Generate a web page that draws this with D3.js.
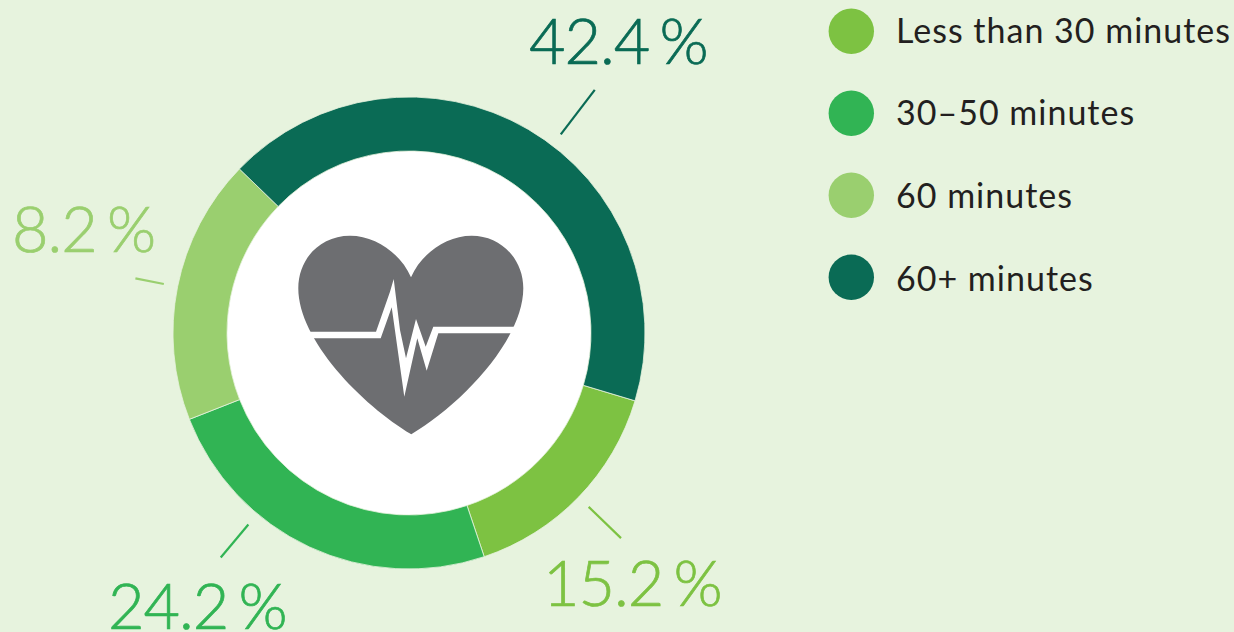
<!DOCTYPE html>
<html lang="en">
<head>
    <meta charset="UTF-8">
    <title>Minutes of activity</title>
    <script src="https://d3js.org/d3.v7.min.js"></script>
    <style>
        html, body { margin: 0; padding: 0; background: #e7f3de; overflow: hidden; }
        svg { display: block; }
        text { font-family: Lato, sans-serif; }
        .legend-label { font-size: 34px; letter-spacing: 1px; fill: #231f20; }
        .value-label { font-size: 63px; font-weight: 300; letter-spacing: -1px; word-spacing: -6px; stroke-width: 0.7px; }
    </style>
</head>
<body>
<script>
    const width  = 1234;
    const height = 632;

    // slices clockwise from the 15.2 % one, which starts lower right
    const categories = ["Less than 30 minutes", "30–50 minutes", "60 minutes", "60+ minutes"];
    const shares     = [15.2, 24.2, 18.2, 42.4];
    // printed labels, kept apart from shares: the reference prints 8.2 on the 18.2 slice
    const valueLabels = ["15.2 %", "24.2 %", "8.2 %", "42.4 %"];
    const colors     = ["#7dc242", "#31b454", "#9acf6f", "#0a6b55"];

    const center = [409, 333];
    const outerR = 236;
    const innerR = 182;
    const startDeg = 106.7;

    // leader lines are radial, nudged off the slice middle where the artwork does that
    const leaderShift = [0, 15, 0, 7];
    const leaderEnd   = [295, 293, 279, 306];
    const labelPos    = [[543, 606], [108, 629], [12, 252], [529, 64]];

    const rad = d => d * Math.PI / 180;

    const svg = d3.select("body").append("svg").attr("width", width).attr("height", height);

    const pie = d3.pie().sort(null)
        .startAngle(rad(startDeg))
        .endAngle(rad(startDeg + 360));
    const arc = d3.arc().innerRadius(innerR).outerRadius(outerR);
    const slices = pie(shares);

    const g = svg.append("g").attr("transform", `translate(${center})`);

    g.append("circle").attr("r", innerR).attr("fill", "#fff");

    g.selectAll("path.slice").data(slices).join("path")
        .attr("class", "slice")
        .attr("d", arc)
        .attr("fill", (d, i) => colors[i])
        .attr("stroke", "#e7f3de")
        .attr("stroke-width", 0.8);

    g.selectAll("line.leader").data(slices).join("line")
        .attr("class", "leader")
        .each(function (d, i) {
            const a = (d.startAngle + d.endAngle) / 2 + rad(leaderShift[i]);
            const p0 = d3.pointRadial(a, 250);
            const p1 = d3.pointRadial(a, leaderEnd[i]);
            d3.select(this).attr("x1", p0[0]).attr("y1", p0[1]).attr("x2", p1[0]).attr("y2", p1[1]);
        })
        .attr("stroke", (d, i) => colors[i])
        .attr("stroke-width", 2.2);

    svg.selectAll("text.value-label").data(valueLabels).join("text")
        .attr("class", "value-label")
        .attr("x", (d, i) => labelPos[i][0])
        .attr("y", (d, i) => labelPos[i][1])
        .attr("fill", (d, i) => colors[i])
        .attr("stroke", (d, i) => colors[i])
        .text(d => d);

    // heart icon, then the pulse cut out of it in white
    const heart = "M411 277.3 C401 254 376 235.7 350 235.7 C320 235.7 298.3 259 298.3 288.3 " +
                  "C298.3 340 362 405 411.3 434.3 C461 405 523.3 340 523.3 288.3 " +
                  "C523.3 259 501 235.7 471.7 235.7 C446 235.7 421 254 411 277.3 Z";
    svg.append("path").attr("d", heart).attr("fill", "#6d6e71");

    const pulse = [[305, 331.7], [376, 331.7], [390, 291.7], [393.7, 279], [400, 330], [406, 358.3],
                   [416, 319], [425.7, 346.7], [433.3, 326.7], [520, 326.7], [515, 333.3], [438.3, 333.3],
                   [426.7, 370.7], [417.3, 338.3], [404.3, 396.7], [391.7, 307.3], [380.7, 338.3], [312.7, 338.3]];
    svg.append("path").attr("d", d3.line()(pulse) + "Z").attr("fill", "#fff");

    // legend: the text rows sit a touch wider apart than the dots
    const legendY = d3.scalePoint().domain(categories).range([31.3, 277.3]);
    const legendTextY = d3.scalePoint().domain(categories).range([42.7, 290.7]);
    const legend = svg.selectAll("g.legend").data(categories).join("g").attr("class", "legend");
    legend.append("circle")
        .attr("cx", 851.3)
        .attr("cy", d => legendY(d))
        .attr("r", 22.7)
        .attr("fill", (d, i) => colors[i]);
    legend.append("text")
        .attr("class", "legend-label")
        .attr("x", 896)
        .attr("y", d => legendTextY(d))
        .text(d => d);
</script>
</body>
</html>
